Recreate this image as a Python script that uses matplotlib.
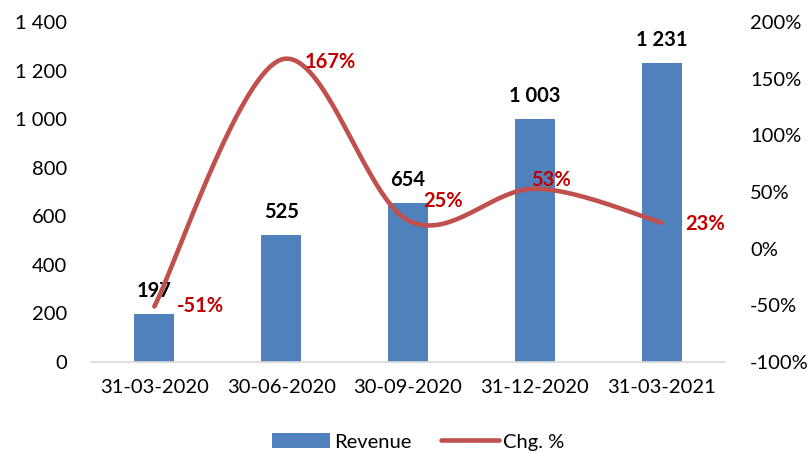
import numpy as np
import matplotlib.pyplot as plt
from matplotlib.ticker import FuncFormatter

plt.rcParams['font.family'] = ['Lato', 'DejaVu Sans']

quarters = ["31-03-2020", "30-06-2020", "30-09-2020", "31-12-2020", "31-03-2021"]
revenue = [197, 525, 654, 1003, 1231]
chg_pct = [-51, 167, 25, 53, 23]
# label offsets (points) for the percent labels, set by eye
chg_offsets = [(16, 0), (17, -2), (11, 14), (-3, 6), (17, -1)]

bar_color = "#4F81BD"
line_color = "#C0504D"
label_red = "#C00000"
fs = 14.5


def smooth_curve(xs, ys, n=40):
    # Excel-style smoothed line: cubic bezier with catmull-rom control points
    xs = np.asarray(xs, float)
    ys = np.asarray(ys, float)
    pts = np.column_stack([xs, ys])
    out = []
    for i in range(len(pts) - 1):
        p0 = pts[i - 1] if i > 0 else pts[i]
        p1 = pts[i]
        p2 = pts[i + 1]
        p3 = pts[i + 2] if i + 2 < len(pts) else pts[i + 1]
        c1 = p1 + (p2 - p0) / 6
        c2 = p2 - (p3 - p1) / 6
        t = np.linspace(0, 1, n)[:, None]
        seg = (1 - t) ** 3 * p1 + 3 * (1 - t) ** 2 * t * c1 + 3 * (1 - t) * t ** 2 * c2 + t ** 3 * p2
        out.append(seg if i == 0 else seg[1:])
    out = np.vstack(out)
    return out[:, 0], out[:, 1]


fig = plt.figure(figsize=(8.12, 4.53), dpi=100)
ax = fig.add_axes([0.112, 0.201, 0.781, 0.750])
x = np.arange(len(quarters))

bars = ax.bar(x, revenue, width=0.315, color=bar_color, label="Revenue", zorder=2)
for xi, v in zip(x, revenue):
    ax.annotate(f"{v:,}".replace(",", " "), (xi, v), xytext=(0, 16.5), textcoords="offset points",
                ha="center", va="center", fontsize=fs, fontweight="bold", color="black")

ax.set_xlim(-0.5, len(quarters) - 0.5)
ax.set_ylim(0, 1400)
ax.set_yticks(range(0, 1401, 200))
ax.yaxis.set_major_formatter(FuncFormatter(lambda v, p: f"{int(v):,}".replace(",", " ")))
ax.set_xticks(x)
ax.set_xticklabels(quarters)
ax.tick_params(axis="both", length=0, labelsize=fs, colors="black")
ax.tick_params(axis="x", pad=12)
ax.tick_params(axis="y", pad=17)
for s in ["top", "left", "right"]:
    ax.spines[s].set_visible(False)
ax.spines["bottom"].set_color("#D9D9D9")
ax.spines["bottom"].set_linewidth(1.2)

ax2 = ax.twinx()
sx, sy = smooth_curve(x, chg_pct)
line, = ax2.plot(sx, sy, color=line_color, lw=3.3, solid_capstyle="round", label="Chg. %")
for xi, v, off in zip(x, chg_pct, chg_offsets):
    ax2.annotate(f"{v}%", (xi, v), xytext=off, textcoords="offset points",
                 ha="left", va="center", fontsize=fs, fontweight="bold", color=label_red)
ax2.set_ylim(-100, 200)
ax2.set_yticks(range(-100, 201, 50))
ax2.yaxis.set_major_formatter(FuncFormatter(lambda v, p: f"{int(v)}%"))
ax2.tick_params(axis="y", length=0, labelsize=fs, pad=18, colors="black")
for s in ["top", "left", "right", "bottom"]:
    ax2.spines[s].set_visible(False)

fig.legend([bars, line], ["Revenue", "Chg. %"], loc="center", bbox_to_anchor=(0.515, 0.025),
           ncol=2, frameon=False, fontsize=fs, handlelength=2.85, handleheight=0.8,
           columnspacing=1.5, handletextpad=0.2)

fig.savefig("out.png", dpi=100)
